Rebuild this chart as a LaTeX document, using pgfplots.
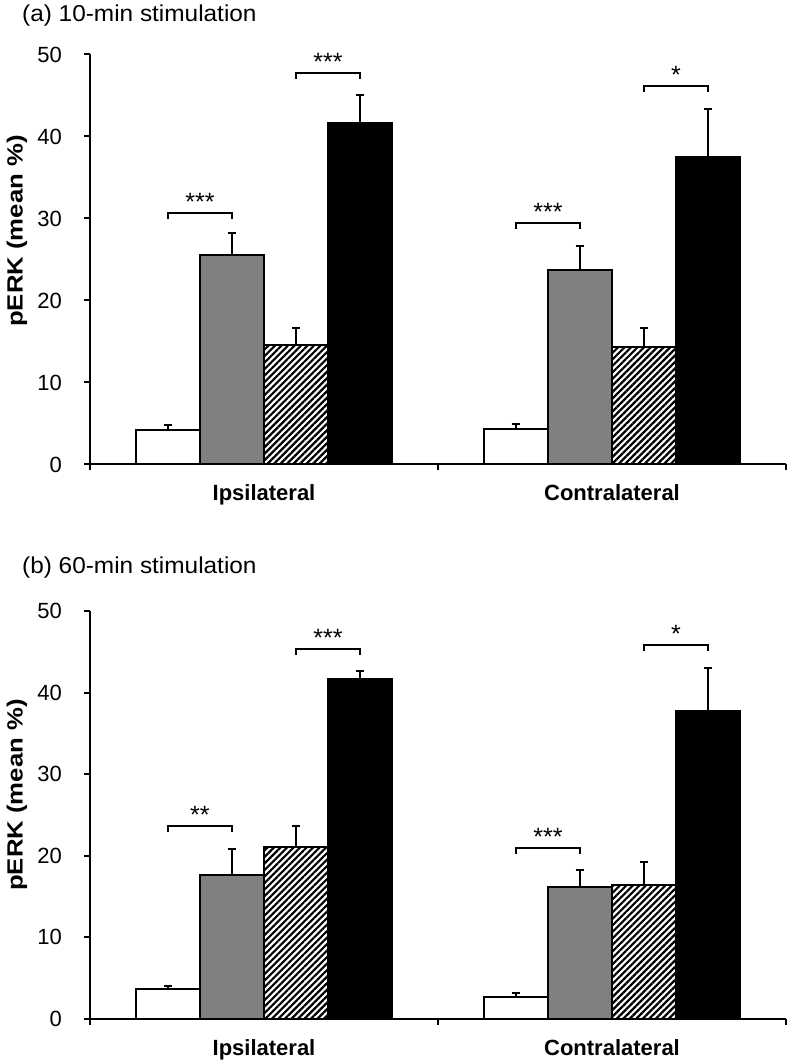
\documentclass[border=0pt]{standalone}
\usepackage{fontspec}
\setmainfont{Liberation Sans}
\newfontfamily\titlefont[FakeStretch=1.06]{Liberation Sans}
\newfontfamily\ylabfont[FakeStretch=1.17]{Liberation Sans}
\usepackage{pgfplots}
\pgfplotsset{compat=1.18}
\usetikzlibrary{patterns.meta}
\definecolor{midgray}{RGB}{128,128,128}

\pgfplotsset{
  panel/.style={
    scale only axis, width=696pt,
    xmin=-0.5, xmax=1.5, ymin=0, ymax=50,
    axis x line*=bottom, axis y line*=left,
    axis line style={-, line width=2pt, black},
    xtick={-0.5,0.5,1.5}, xticklabels={Ipsilateral,Contralateral,{}},
    xticklabel style={font=\fontsize{22}{26}\selectfont\bfseries, xshift=174pt, anchor=base, yshift=-30pt},
    ytick={0,10,20,30,40,50},
    yticklabel style={font=\fontsize{22}{26}\selectfont, anchor=east, inner sep=0pt, xshift=-22pt},
    /pgf/number format/assume math mode=true,
    tick align=outside, major tick length=6pt,
    tick style={line width=2pt, black},
    clip=false,
  },
  barbase/.style={ybar, bar width=0.184, bar shift=0pt, draw=black, line width=2pt,
    error bars/y dir=plus, error bars/y explicit,
    error bars/error mark=-,
    error bars/error bar style={line width=2pt, black},
    error bars/error mark options={rotate=90, line width=2pt, black, mark size=4pt}},
  whitebar/.style={barbase, fill=white},
  graybar/.style={barbase, fill=midgray},
  hatchbar/.style={barbase, pattern={Lines[angle=45,distance=4.6pt,line width=2.2pt]}, pattern color=black},
  blackbar/.style={barbase, fill=black},
}

\newcommand{\sig}[4]{% x1, x2, y, text
  \draw[line width=2pt, black] ([yshift=-6pt]axis cs:#1,#3) -- (axis cs:#1,#3) -- (axis cs:#2,#3) -- ([yshift=-6pt]axis cs:#2,#3);
  \node[anchor=base, inner sep=0pt, yshift=2.5pt, font=\fontsize{25}{28}\selectfont] at (axis cs:{(#1+#2)/2},#3) {#4};
}

\begin{document}
\begin{tikzpicture}[x=1pt,y=1pt]
\path[use as bounding box] (0,0) rectangle (788,1063);

% titles
\node[anchor=base west, inner sep=0pt, font=\titlefont\fontsize{23}{27}\selectfont] at (22,1041.3) {(a) 10-min stimulation};
\node[anchor=base west, inner sep=0pt, font=\titlefont\fontsize{23}{27}\selectfont] at (22,489) {(b) 60-min stimulation};

% panel (a)
\begin{axis}[panel, height=410pt, at={(90pt,598.5pt)}, anchor=south west]
\addplot[whitebar] table[x=x,y=y,y error=e] {
x y e
-0.276 4.2 0.6
0.724 4.3 0.6
};
\addplot[graybar] table[x=x,y=y,y error=e] {
x y e
-0.092 25.6 2.6
0.908 23.7 2.9
};
\addplot[hatchbar] table[x=x,y=y,y error=e] {
x y e
0.092 14.6 2.0
1.092 14.3 2.3
};
\addplot[blackbar] table[x=x,y=y,y error=e] {
x y e
0.276 41.6 3.5
1.276 37.5 5.8
};
\sig{-0.276}{-0.092}{30.7}{***}
\sig{0.092}{0.276}{47.8}{***}
\sig{0.724}{0.908}{29.5}{***}
\sig{1.092}{1.276}{46.1}{*}
\end{axis}
\node[rotate=90, anchor=base, inner sep=0pt, font=\ylabfont\bfseries\fontsize{22}{26}\selectfont] at (22.5,832) {pERK (mean \%)};

% panel (b)
\begin{axis}[panel, height=408pt, at={(90pt,44pt)}, anchor=south west]
\addplot[whitebar] table[x=x,y=y,y error=e] {
x y e
-0.276 3.7 0.3
0.724 2.7 0.5
};
\addplot[graybar] table[x=x,y=y,y error=e] {
x y e
-0.092 17.7 3.1
0.908 16.2 2.1
};
\addplot[hatchbar] table[x=x,y=y,y error=e] {
x y e
0.092 21.1 2.6
1.092 16.4 2.8
};
\addplot[blackbar] table[x=x,y=y,y error=e] {
x y e
0.276 41.7 0.9
1.276 37.8 5.2
};
\sig{-0.276}{-0.092}{23.6}{**}
\sig{0.092}{0.276}{45.4}{***}
\sig{0.724}{0.908}{20.9}{***}
\sig{1.092}{1.276}{45.8}{*}
\end{axis}
\node[rotate=90, anchor=base, inner sep=0pt, font=\ylabfont\bfseries\fontsize{22}{26}\selectfont] at (22.5,268) {pERK (mean \%)};
\end{tikzpicture}
\end{document}
